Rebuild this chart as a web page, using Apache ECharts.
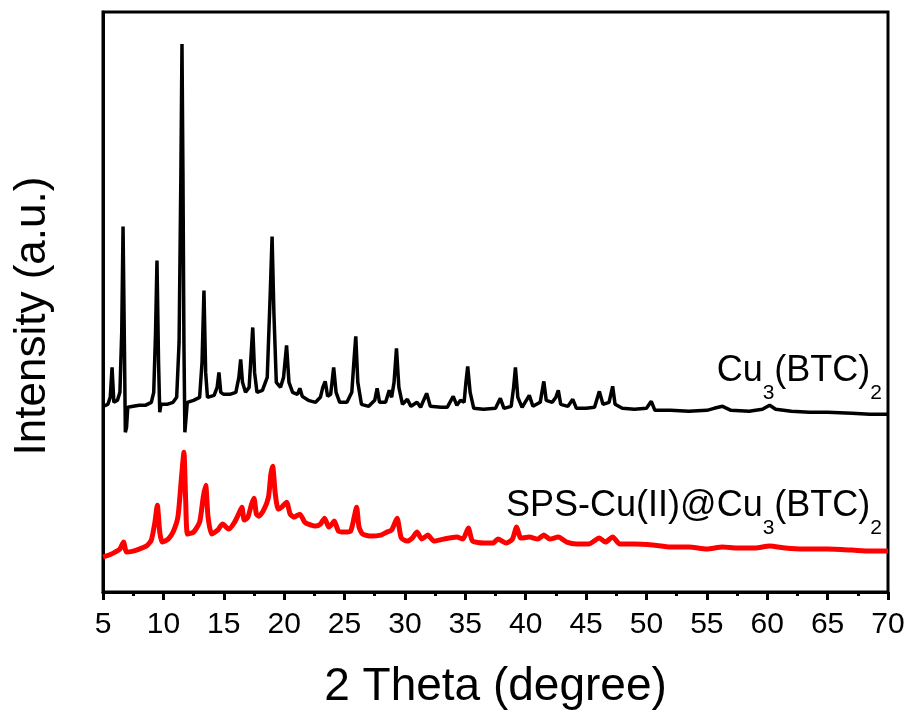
<!DOCTYPE html>
<html>
<head>
<meta charset="utf-8">
<script src="https://cdn.jsdelivr.net/npm/echarts@6/dist/echarts.min.js"></script>
<style>
  html, body { margin: 0; padding: 0; background: #fff; }
  #chart { width: 909px; height: 715px; }
</style>
</head>
<body>
<div id="chart"></div>
<script>
// 2-theta positions and intensities (arbitrary units)
const cuBtcData = [
  [5.0,186],[5.4,188],[5.6,195],[5.75,225],[5.9,190],[6.2,192],[6.4,200],[6.55,260],[6.66,366],[6.78,240],
  [6.85,160],[6.95,165],[7.05,185],[7.5,186],[8.0,187],[8.5,187],[9.0,190],[9.2,200],[9.35,260],[9.47,332],
  [9.6,230],[9.7,180],[9.8,188],[10.3,188],[10.8,190],[11.1,195],[11.3,250],[11.45,420],[11.54,549],[11.62,420],
  [11.7,250],[11.78,160],[11.88,162],[11.98,190],[12.5,192],[13.0,195],[13.2,230],[13.36,302],[13.5,220],[13.65,195],
  [14.2,197],[14.45,205],[14.6,220],[14.75,200],[15.0,198],[15.5,198],[16.0,200],[16.25,215],[16.4,233],[16.55,210],
  [16.8,200],[17.1,205],[17.25,235],[17.4,265],[17.55,220],[17.75,200],[18.2,202],[18.6,215],[18.85,300],[19.0,356],
  [19.15,280],[19.35,210],[19.7,205],[19.95,215],[20.2,247],[20.4,210],[20.7,200],[21.1,198],[21.3,204],[21.5,196],
  [22.0,192],[22.6,190],[23.0,195],[23.2,205],[23.4,211],[23.6,196],[23.85,198],[24.1,225],[24.3,200],[24.6,190],
  [25.2,190],[25.6,200],[25.8,235],[25.93,256],[26.1,210],[26.4,188],[27.0,186],[27.5,192],[27.7,204],[27.9,190],
  [28.4,190],[28.7,202],[28.9,195],[29.1,210],[29.3,244],[29.5,205],[29.8,188],[30.2,193],[30.5,186],[31.0,190],
  [31.3,185],[31.8,199],[32.1,186],[33.0,185],[33.5,185],[34.0,196],[34.3,187],[34.6,192],[34.9,190],[35.05,210],
  [35.2,226],[35.4,200],[35.7,184],[36.5,183],[37.5,184],[37.9,194],[38.2,184],[38.8,186],[39.0,205],[39.15,225],
  [39.35,195],[39.7,185],[40.3,197],[40.6,186],[41.2,190],[41.5,211],[41.7,192],[42.2,190],[42.5,195],[42.7,202],
  [42.9,188],[43.5,186],[43.9,193],[44.2,184],[45.0,184],[45.7,185],[46.1,201],[46.4,188],[46.9,190],[47.2,206],
  [47.4,188],[48.0,184],[49.0,183],[50.0,184],[50.4,191],[50.7,182],[52.0,182],[53.5,181],[55.0,182],[55.6,184],
  [56.3,186],[57.0,182],[58.5,181],[59.6,183],[60.2,187],[60.7,183],[62.0,181],[63.5,180],[65.0,180],[67.0,179],
  [68.5,178],[70.0,178]
];

const spsData = [
  [5.0,35],[5.5,37],[6.0,40],[6.4,43],[6.7,50],[6.95,40],[7.5,41],[8.0,43],[8.6,46],[9.0,52],
  [9.3,70],[9.5,87],[9.7,60],[9.9,50],[10.4,53],[10.8,60],[11.2,75],[11.5,115],[11.7,140],[11.85,90],
  [12.0,58],[12.5,60],[13.0,70],[13.3,95],[13.5,107],[13.7,75],[14.0,58],[14.5,62],[14.9,68],[15.4,63],
  [15.9,70],[16.3,80],[16.5,85],[16.7,72],[17.0,75],[17.3,88],[17.5,94],[17.7,78],[17.9,76],[18.3,82],
  [18.7,95],[18.9,118],[19.05,126],[19.25,100],[19.5,83],[19.8,85],[20.2,90],[20.5,78],[20.8,75],[21.3,78],
  [21.7,70],[22.0,68],[22.6,66],[23.0,68],[23.35,74],[23.7,65],[23.95,68],[24.15,71],[24.5,61],[25.0,60],
  [25.5,61],[25.8,75],[26.0,85],[26.2,65],[26.5,58],[27.2,56],[28.0,57],[28.5,60],[28.9,62],[29.35,74],
  [29.7,54],[30.2,51],[30.6,54],[31.0,60],[31.4,53],[31.9,57],[32.4,51],[33.2,53],[34.3,55],[34.8,53],
  [35.25,64],[35.6,51],[36.5,49],[37.3,49],[37.7,53],[38.4,49],[38.9,53],[39.25,65],[39.6,54],[40.3,55],
  [41.0,53],[41.5,57],[42.0,53],[42.7,55],[43.4,50],[44.2,48],[45.2,48],[46.1,54],[46.6,50],[47.2,55],
  [47.8,48],[49.0,48],[50.5,47],[52.0,45],[53.5,45],[55.0,43],[56.3,45],[57.5,44],[59.0,44],[60.2,46],
  [61.5,44],[63.0,43],[65.0,43],[67.0,42],[68.5,41],[70.0,41]
];

const xTicks = [5, 10, 15, 20, 25, 30, 35, 40, 45, 50, 55, 60, 65, 70];
const seriesNames = ["Cu3(BTC)2", "SPS-Cu(II)@Cu3(BTC)2"];

const FONT = "Liberation Sans, Arial, sans-serif";
const chart = echarts.init(document.getElementById("chart"));

// subscript: smaller glyphs pushed down with top padding
const subStyle = { fontFamily: FONT, fontSize: 21, color: "#000", lineHeight: 21, padding: [44, 0, 0, 0] };
const mainStyle = { fontFamily: FONT, fontSize: 36, color: "#000", lineHeight: 36 };

const option = {
  animation: false,
  backgroundColor: "#fff",
  grid: {
    left: 103, right: 21, top: 12, bottom: 122,
    show: true, borderColor: "#000", borderWidth: 3,
  },
  xAxis: {
    type: "value",
    min: xTicks[0],
    max: xTicks[xTicks.length - 1],
    interval: 5,
    name: "2 Theta (degree)",
    nameLocation: "middle",
    nameGap: 72,
    nameTextStyle: { fontFamily: FONT, fontSize: 46, color: "#000" },
    axisLine: { lineStyle: { color: "#000", width: 3 } },
    axisTick: { inside: false, length: 8, lineStyle: { color: "#000", width: 3 } },
    minorTick: { show: true, splitNumber: 2, length: 4, lineStyle: { color: "#000", width: 3 } },
    axisLabel: { fontFamily: FONT, fontSize: 30, color: "#000", margin: 18 },
    splitLine: { show: false },
  },
  yAxis: {
    type: "value",
    min: 0,
    max: 581,
    axisLine: { show: true, lineStyle: { color: "#000", width: 3 } },
    axisTick: { show: false },
    axisLabel: { show: false },
    splitLine: { show: false },
  },
  series: [
    {
      name: seriesNames[0],
      type: "line",
      data: cuBtcData,
      showSymbol: false,
      lineStyle: { color: "#000", width: 3.5 },
      z: 3,
    },
    {
      name: seriesNames[1],
      type: "line",
      data: spsData,
      showSymbol: false,
      smooth: 0.2,
      lineStyle: { color: "#ff0000", width: 5 },
      z: 2,
    },
  ],
  graphic: [
    {
      type: "text",
      x: 33,
      y: 316,
      rotation: Math.PI / 2,
      style: {
        text: "Intensity (a.u.)",
        fontFamily: FONT,
        fontSize: 44,
        fill: "#000",
        align: "center",
        verticalAlign: "middle",
      },
    },
    {
      type: "text",
      right: 27,
      top: 339,
      style: {
        text: "{m|Cu}{s|3}{m|(BTC)}{s|2}",
        rich: { m: mainStyle, s: subStyle },
      },
    },
    {
      type: "text",
      right: 27,
      top: 474,
      style: {
        text: "{m|SPS-Cu(II)@Cu}{s|3}{m|(BTC)}{s|2}",
        rich: { m: mainStyle, s: subStyle },
      },
    },
  ],
};

chart.setOption(option);
</script>
</body>
</html>
